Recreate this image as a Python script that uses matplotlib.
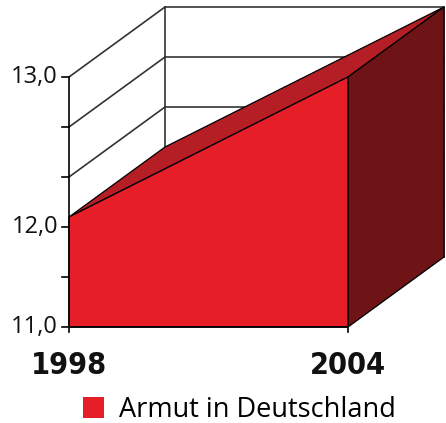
import matplotlib
matplotlib.use("Agg")
import matplotlib.pyplot as plt
from matplotlib.patches import Patch

years = [1998, 2004]
values = [12.1, 13.5]
tick_values = [11.0, 11.5, 12.0, 12.5, 13.0, 13.5]
tick_labels = ["11,0", "", "12,0", "", "", "13,0"]
series_name = "Armut in Deutschland"

# depth offset of the 3d look (data units)
dx = 96 / 46.5
dy = 0.70
front = "#e61e28"
top = "#b41e24"
side = "#6e1416"
grid = "#333333"

fig = plt.figure(figsize=(4.46, 4.23), dpi=100)
ax = fig.add_axes([0, 0, 1, 1])
ax.set_xlim(1998 - 69 / 46.5, 1998 + 377 / 46.5)
ax.set_ylim(11 - 0.96, 11 + 3.27)
ax.axis("off")

x0, x1 = years
ymin, ymax = tick_values[0], tick_values[-1]

# back and side walls
for v in tick_values:
    ax.plot([x0 + dx, x1 + dx], [v + dy, v + dy], color=grid, lw=1.2, zorder=1)
    ax.plot([x0, x0 + dx], [v, v + dy], color=grid, lw=1.2, zorder=1)
for xx in (x0 + dx, x1 + dx):
    ax.plot([xx, xx], [ymin + dy, ymax + dy], color=grid, lw=1.2, zorder=1)

# area body
v0, v1 = values
ax.fill([x0, x1, x1 + dx, x0 + dx], [v0, v1, v1 + dy, v0 + dy],
        facecolor=top, edgecolor="black", lw=0.9, zorder=2)
ax.fill([x1, x1, x1 + dx, x1 + dx], [ymin, v1, v1 + dy, ymin + dy],
        facecolor=side, edgecolor="black", lw=0.9, zorder=2)
ax.fill([x0, x0, x1, x1], [ymin, v0, v1, ymin],
        facecolor=front, edgecolor="black", lw=0.9, zorder=3)

# axes lines and ticks
ax.plot([x0, x0], [ymin, ymax], color="black", lw=1.2, zorder=4)
ax.plot([x0, x1], [ymin, ymin], color="black", lw=1.2, zorder=4)
for v, lab in zip(tick_values, tick_labels):
    ax.plot([x0 - 7 / 46.5, x0], [v, v], color="black", lw=1.2, zorder=4)
    ax.text(x0 - 11 / 46.5, v, lab, ha="right", va="center",
            fontsize=17, family="Open Sans", weight="medium", color="#111111")
for xx in years:
    ax.plot([xx, xx], [ymin, ymin - 0.05], color="black", lw=1.2, zorder=4)
    ax.text(xx, ymin - 0.39, str(xx), ha="center", va="center", fontsize=22,
            family="DejaVu Sans", stretch="condensed", weight="bold",
            color="#111111")

ax.legend(handles=[Patch(facecolor=front, edgecolor="none", label=series_name)],
          loc="center left", bbox_to_anchor=(83 / 446, 1 - 410 / 423),
          bbox_transform=fig.transFigure, frameon=False, borderpad=0,
          borderaxespad=0, handlelength=0.78, handleheight=0.78, handletextpad=0.55,
          prop={"family": "Open Sans", "size": 19.5})

fig.savefig("out.png", dpi=100)
